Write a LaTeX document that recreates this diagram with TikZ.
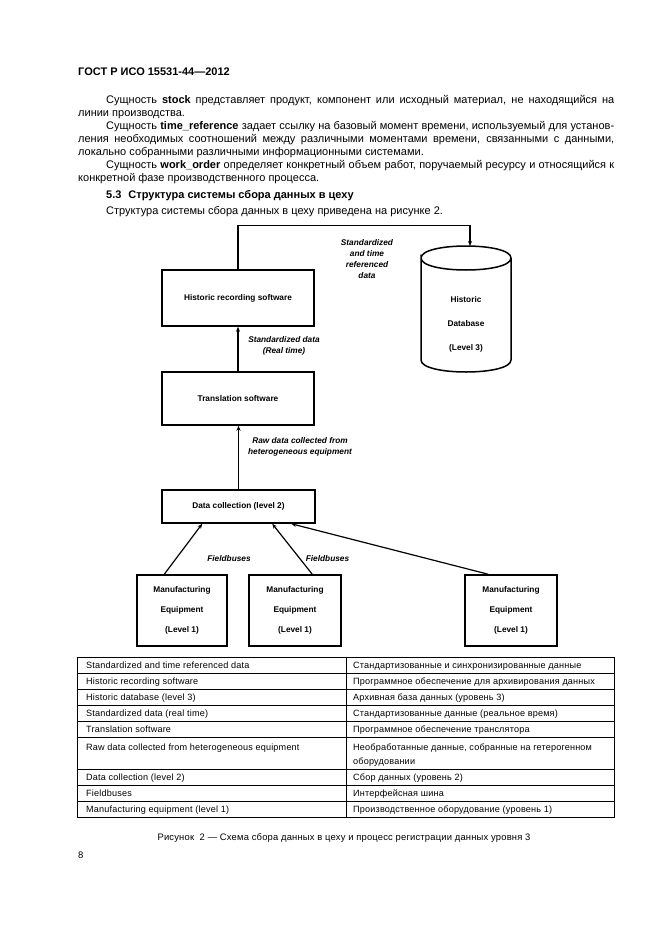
\documentclass[tikz,border=0pt]{standalone}
\usepackage{fontspec}
\setmainfont{Liberation Sans}
\newfontfamily\tabfont[LetterSpace=2]{Liberation Sans}
\usetikzlibrary{arrows.meta}
\newcommand{\diafont}{\bfseries\fontsize{8.3}{10}\selectfont}
\newcommand{\labfont}{\bfseries\itshape\fontsize{8.3}{11}\selectfont}
\newcommand{\cellfont}{\tabfont\fontsize{9.1}{11}\selectfont}
\begin{document}
\begin{tikzpicture}[x=1pt,y=-1pt,
  box/.style={draw, line width=1.5pt, inner sep=0pt, align=center, font=\diafont},
  conn/.style={line width=1.2pt, -{Stealth[length=5pt,width=4pt]}},
  lbl/.style={font=\labfont, align=center, inner sep=0pt},
  txt/.style={font=\diafont, align=center, inner sep=0pt},
  cell/.style={anchor=base west, inner sep=0pt, font=\cellfont},
  tabline/.style={line width=0.8pt},
  body/.style={anchor=base west, inner sep=0pt, font=\fontsize{11}{13}\selectfont}
]
\useasboundingbox (0,0) rectangle (661,936);
\fill[white] (0,0) rectangle (661,936);

% ---- page text ----
\node[body, font=\bfseries\fontsize{11}{13}\selectfont] (hdr) at (78,75.5) {ГОСТ Р ИСО 15531-44—2012};
\node[body, text width=536pt, align=justify] (paras) at (78,103.5) {%
\hyphenpenalty=10000\exhyphenpenalty=10000\parindent=0pt
\hspace*{28pt}Сущность \textbf{stock} представляет продукт, компонент или исходный материал, не находящийся на\linebreak линии производства.\par
\hspace*{28pt}Сущность \textbf{time\_reference} задает ссылку на базовый момент времени, используемый для установ-\linebreak ления необходимых соотношений между различными моментами времени, связанными с данными,\linebreak локально собранными различными информационными системами.\par
\hspace*{28pt}Сущность \textbf{work\_order} определяет конкретный объем работ, поручаемый ресурсу и относящийся к\linebreak конкретной фазе производственного процесса.\par};
\node[body, font=\bfseries\fontsize{11}{13}\selectfont] (sec) at (106,198.5) {5.3\hspace{7pt}Структура системы сбора данных в цеху};
\node[body] (intro) at (106,214.5) {Структура системы сбора данных в цеху приведена на рисунке 2.};

% ---- diagram ----
\node[box, minimum width=152pt, minimum height=56pt] (hrs) at (238,298) {Historic recording software};
\node[box, minimum width=152pt, minimum height=53pt] (ts) at (238,398.5) {Translation software};
\node[box, minimum width=153pt, minimum height=33pt] (dc) at (238.5,506.5) {Data collection (level 2)};
\node[box, minimum width=90pt, minimum height=71pt, font=\bfseries\fontsize{8.3}{20}\selectfont] (m1) at (182,610.5) {Manufacturing\\Equipment\\(Level 1)};
\node[box, minimum width=92pt, minimum height=71pt, font=\bfseries\fontsize{8.3}{20}\selectfont] (m2) at (295,610.5) {Manufacturing\\Equipment\\(Level 1)};
\node[box, minimum width=92pt, minimum height=71pt, font=\bfseries\fontsize{8.3}{20}\selectfont] (m3) at (511,610.5) {Manufacturing\\Equipment\\(Level 1)};

% cylinder (Historic Database)
\draw[line width=1.5pt] (421,258) .. controls (421,242) and (511,242) .. (511,258)
  .. controls (511,274) and (421,274) .. (421,258) -- (421,360)
  .. controls (421,376) and (511,376) .. (511,360) -- (511,258);
\coordinate (dbtop) at (470,246);
\node[txt, font=\bfseries\fontsize{8.3}{24}\selectfont] (dbtxt) at (466,324) {Historic\\Database\\(Level 3)};

% connectors
\draw[conn] (hrs.north) -- ++(0,-44) -| (dbtop);
\draw[conn] (ts.north) -- (hrs.south);
\draw[conn] (dc.north) -- (dc.north |- ts.south);
\draw[conn] ([xshift=28pt]m1.north west) -- ([xshift=41pt]dc.south west);
\draw[conn] ([xshift=64pt]m2.north west) -- ([xshift=111pt]dc.south west);
\draw[conn] ([xshift=24pt]m3.north west) -- ([xshift=130pt]dc.south west);

% labels
\node[lbl] (l1) at (367,259.5) {Standardized\\and time\\referenced\\data};
\node[lbl] (l2) at (284,345.5) {Standardized data\\(Real time)};
\node[lbl] (l3) at (300,446.5) {Raw data collected from\\heterogeneous equipment};
\node[lbl] (f1) at (229,559) {Fieldbuses};
\node[lbl] (f2) at (327.5,559) {Fieldbuses};

% ---- table ----
\draw[tabline] (77,657) rectangle (614,817);
\foreach \yy in {673,689,705,721,737,769,785,801} \draw[tabline] (77,\yy) -- (614,\yy);
\draw[tabline] (346,657) -- (346,817);

\node[cell] (a1) at (86,668.3) {Standardized and time referenced data};
\node[cell] (b1) at (353,668.3) {Стандартизованные и синхронизированные данные};
\node[cell] (a2) at (86,684.3) {Historic recording software};
\node[cell] (b2) at (353,684.3) {Программное обеспечение для архивирования данных};
\node[cell] (a3) at (86,700.3) {Historic database (level 3)};
\node[cell] (b3) at (353,700.3) {Архивная база данных (уровень 3)};
\node[cell] (a4) at (86,716.3) {Standardized data (real time)};
\node[cell] (b4) at (353,716.3) {Стандартизованные данные (реальное время)};
\node[cell] (a5) at (86,732.3) {Translation software};
\node[cell] (b5) at (353,732.3) {Программное обеспечение транслятора};
\node[cell] (a6) at (86,750.3) {Raw data collected from heterogeneous equipment};
\node[cell] (b6) at (353,750.3) {Необработанные данные, собранные на гетерогенном};
\node[cell] (b6b) at (353,764.3) {оборудовании};
\node[cell] (a7) at (86,780.3) {Data collection (level 2)};
\node[cell] (b7) at (353,780.3) {Сбор данных (уровень 2)};
\node[cell] (a8) at (86,796.3) {Fieldbuses};
\node[cell] (b8) at (353,796.3) {Интерфейсная шина};
\node[cell] (a9) at (86,812.3) {Manufacturing equipment (level 1)};
\node[cell] (b9) at (353,812.3) {Производственное оборудование (уровень 1)};

% caption and page number
\node[anchor=base, inner sep=0pt, font=\tabfont\fontsize{9.4}{11}\selectfont] (cap) at (344,840.3) {Рисунок\ \ 2 — Схема сбора данных в цеху и процесс регистрации данных уровня 3};
\node[anchor=base west, inner sep=0pt, font=\fontsize{9.5}{11}\selectfont] (pg) at (78,858.5) {8};
\end{tikzpicture}
\end{document}
